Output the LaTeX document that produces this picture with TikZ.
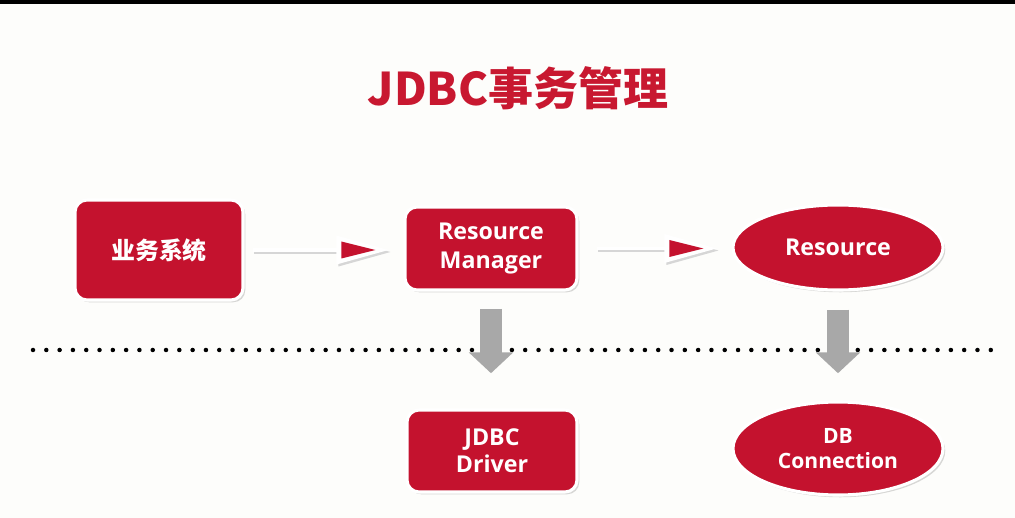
\documentclass[tikz,border=0pt]{standalone}
\usepackage{fontspec}
\setmainfont{Open Sans}
\newfontfamily\cjk{Noto Sans CJK SC}
\usetikzlibrary{arrows.meta,shapes.geometric,shadows}
\definecolor{boxred}{RGB}{196,18,46}
\definecolor{titlered}{RGB}{200,24,48}
\definecolor{arrowgrey}{RGB}{168,168,168}
\definecolor{bgwhite}{RGB}{253,253,251}
\begin{document}
\begin{tikzpicture}[x=0.025cm,y=-0.025cm,
  redbox/.style={rectangle, rounded corners=0.3cm, fill=boxred, draw=white,
    line width=2.2pt, text=white, align=center, inner sep=0pt,
    drop shadow={opacity=0.3, shadow xshift=1.6pt, shadow yshift=-1.6pt}},
  redell/.style={redbox, ellipse},
  boxtext/.style={font=\bfseries\fontsize{16.5}{20.6}\selectfont},
  flowline/.style={draw=white, line width=2.2pt},
  flowshadow/.style={draw=black!16, line width=2.2pt,
    transform canvas={shift={(1.2pt,-1.4pt)}}},
  headouter/.style={fill=white},
  headshadow/.style={fill=black!16},
  headinner/.style={fill=boxred},
  greyarrow/.style={draw=arrowgrey, line width=0.56cm,
    -{Triangle[length=0.52cm, width=1.08cm]}},
  dotline/.style={draw=black, line width=3.2pt, line cap=round,
    dash pattern=on 0pt off 9.46pt}
]
\useasboundingbox (0,0) rectangle (1015,518);
\fill[bgwhite] (0,0) rectangle (1015,518);
\fill[black] (0,0) rectangle (1015,4.5);

\node[text=titlered, font=\cjk\bfseries\fontsize{32}{36}\selectfont] (title) at (518,88) {JDBC事务管理};

\coordinate (dlA) at (33,350);
\coordinate (dlB) at (995,350);
\draw[dotline] (dlA) -- (dlB);

\node[redbox, minimum width=4.2cm, minimum height=2.5cm,
  font=\cjk\bfseries\fontsize{17}{20}\selectfont] (biz) at (159,250) {业务系统};
\node[redbox, boxtext, minimum width=4.3cm, minimum height=2.075cm] (rm) at (491,248.5) {Resource\\Manager};
\node[redell, boxtext, minimum width=5.25cm, minimum height=2.125cm] (res) at (838,247.5) {Resource};
\node[redbox, font=\bfseries\fontsize{16.5}{19.2}\selectfont, minimum width=4.25cm, minimum height=2.05cm] (jd) at (492,451) {JDBC\\Driver};
\node[redell, font=\bfseries\fontsize{15}{17.8}\selectfont, minimum width=5.25cm, minimum height=2.325cm] (db) at (838,448.5) {DB\\Connection};

% flow arrows: tip points just before the target
\coordinate (tipA) at ([xshift=-0.375cm]biz.east -| rm.west);
\coordinate (tipB) at ([xshift=-0.375cm]rm.east -| res.west);

\draw[flowshadow, shorten <=0.2cm] (biz.east) -- ([xshift=-1.2cm]tipA);
\draw[flowline, shorten <=0.2cm] (biz.east) -- ([xshift=-1.2cm]tipA);
\fill[headshadow, shift={(tipA)}] (2,2) -- (-50,-12.5) -- (-50,16.5) -- cycle;
\fill[headouter, shift={(tipA)}] (0,0) -- (-52,-14.5) -- (-52,14.5) -- cycle;
\fill[headinner, shift={(tipA)}] (-13,0) -- (-47,-8.5) -- (-47,8.5) -- cycle;

\draw[flowshadow, shorten <=0.45cm] (rm.east) -- ([xshift=-1.2cm]tipB);
\draw[flowline, shorten <=0.45cm] (rm.east) -- ([xshift=-1.2cm]tipB);
\fill[headshadow, shift={(tipB)}] (2,2) -- (-50,-12.5) -- (-50,16.5) -- cycle;
\fill[headouter, shift={(tipB)}] (0,0) -- (-52,-14.5) -- (-52,14.5) -- cycle;
\fill[headinner, shift={(tipB)}] (-13,0) -- (-47,-8.5) -- (-47,8.5) -- cycle;

\draw[greyarrow, shorten <=0.43cm, shorten >=0.88cm] (rm.south) -- (rm.south |- jd.north);
\draw[greyarrow, shorten <=0.45cm, shorten >=0.68cm] (res.south) -- (res.south |- db.north);
\end{tikzpicture}
\end{document}
